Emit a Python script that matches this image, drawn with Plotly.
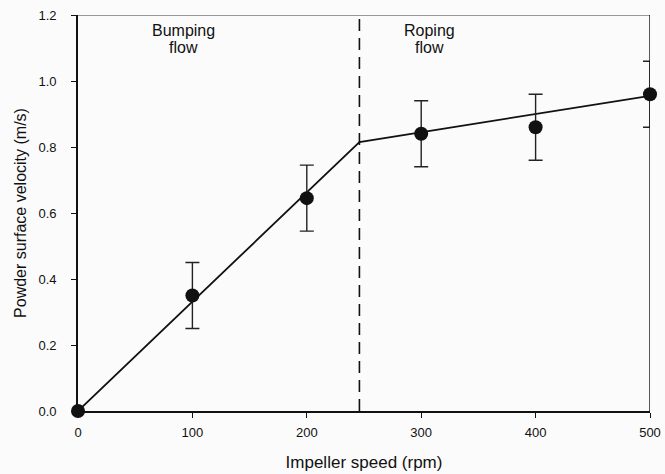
import plotly.graph_objects as go

# Measured surface velocity vs impeller speed
speed_rpm = [0, 100, 200, 300, 400, 500]
velocity = [0.0, 0.35, 0.645, 0.84, 0.86, 0.96]
velocity_err = [0.0, 0.1, 0.1, 0.1, 0.1, 0.1]

# Piecewise linear trend (bumping -> roping transition)
trend_x = [0, 246, 500]
trend_y = [0.0, 0.815, 0.955]
transition_rpm = 246

x_ticks = [0, 100, 200, 300, 400, 500]
y_ticks = [0.0, 0.2, 0.4, 0.6, 0.8, 1.0, 1.2]

# Regime labels: (x, y, text)
regime_labels = [
    (92, 1.152, "Bumping"), (92, 1.103, "flow"),
    (307, 1.152, "Roping"), (307, 1.103, "flow"),
]

FONT = "Liberation Sans, Arial, sans-serif"
INK = "#111111"

fig = go.Figure()

fig.add_trace(go.Scatter(
    x=trend_x, y=trend_y, mode="lines",
    line=dict(color=INK, width=1.8),
    hoverinfo="skip", showlegend=False,
))

fig.add_trace(go.Scatter(
    x=speed_rpm, y=velocity, mode="markers",
    marker=dict(color=INK, size=14),
    error_y=dict(type="data", array=velocity_err, visible=True,
                 color="#222222", thickness=1.4, width=7),
    cliponaxis=False, showlegend=False,
))

# Flow regime boundary
fig.add_shape(type="line", xref="x", yref="y",
              x0=transition_rpm, x1=transition_rpm, y0=0, y1=1.2,
              line=dict(color=INK, width=1.6, dash="12px,7px"))

# Frame: top and right edges
fig.add_shape(type="line", xref="x", yref="y", x0=0, x1=500, y0=1.2, y1=1.2,
              line=dict(color="#777777", width=1.4))
fig.add_shape(type="line", xref="x", yref="y", x0=500, x1=500, y0=0, y1=1.2,
              line=dict(color=INK, width=1.4))

for lx, ly, txt in regime_labels:
    fig.add_annotation(x=lx, y=ly, xref="x", yref="y", text=txt,
                       showarrow=False, yanchor="middle",
                       font=dict(family=FONT, size=16, color=INK))

fig.update_xaxes(
    range=[0, 500], tickvals=x_ticks, ticktext=[str(v) for v in x_ticks],
    showline=True, linecolor=INK, linewidth=1.6,
    ticks="outside", ticklen=5, tickcolor=INK, tickwidth=1,
    ticklabelstandoff=4, automargin=False,
    showgrid=False, zeroline=False,
    tickfont=dict(family=FONT, size=13, color=INK),
    title=dict(text="Impeller speed (rpm)", standoff=17,
               font=dict(family=FONT, size=17, color=INK)),
)
fig.update_yaxes(
    range=[0, 1.2], tickvals=y_ticks, ticktext=[f"{v:.1f}" for v in y_ticks],
    showline=True, linecolor=INK, linewidth=1.6,
    ticks="outside", ticklen=5, tickcolor=INK, tickwidth=1,
    ticklabelstandoff=12, automargin=False,
    showgrid=False, zeroline=False,
    tickfont=dict(family=FONT, size=13, color=INK),
    title=dict(text="Powder surface velocity (m/s)", standoff=8,
               font=dict(family=FONT, size=16, color=INK)),
)

fig.update_layout(
    width=665, height=474,
    margin=dict(l=78, r=15, t=15, b=63),
    paper_bgcolor="#fbfbfb", plot_bgcolor="#fbfbfb",
    showlegend=False,
)

fig.write_html("out.html")
